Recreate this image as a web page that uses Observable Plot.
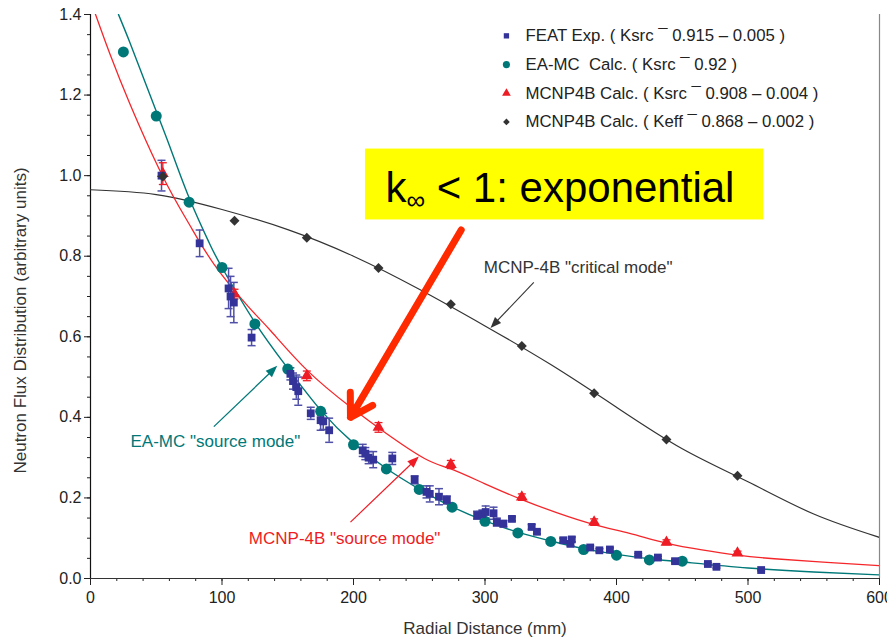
<!DOCTYPE html>
<html><head><meta charset="utf-8">
<script src="https://cdn.jsdelivr.net/npm/d3@7"></script>
<script src="https://cdn.jsdelivr.net/npm/@observablehq/plot@0.6"></script>
<style>
body{margin:0;background:#fff;}
#chart{width:887px;height:637px;}
</style></head><body><div id="chart"></div>
<script>
// ---------- data ----------
const featX   = [54, 83, 105, 106.5, 109, 122.5, 152, 154, 156.5, 158, 167.5, 175, 177, 181.5, 207, 209, 211.5, 215, 229.5, 246.5, 255.5, 258, 265, 271, 294, 298, 300.5, 306.5, 309, 314, 320.5, 335.5, 339.5, 359.5, 365, 366, 380, 387, 395, 416.5, 431.5, 444.5, 469.5, 476, 510];
const featY   = [1.0, 0.832, 0.72, 0.70, 0.685, 0.598, 0.508, 0.49, 0.475, 0.465, 0.41, 0.393, 0.39, 0.368, 0.318, 0.31, 0.30, 0.295, 0.298, 0.245, 0.215, 0.21, 0.203, 0.195, 0.157, 0.16, 0.165, 0.162, 0.14, 0.136, 0.148, 0.128, 0.116, 0.095, 0.086, 0.097, 0.077, 0.070, 0.072, 0.059, 0.052, 0.043, 0.036, 0.029, 0.021];
const featErr = [0.038, 0.033, 0.05, 0.05, 0.05, 0.02, 0.015, 0.02, 0.03, 0.035, 0.015, 0.025, 0.02, 0.03, 0.015, 0.015, 0.015, 0.02, 0.015, 0.01, 0.015, 0.02, 0.02, 0.01, 0.01, 0.01, 0.015, 0.015, 0.01, 0.008, 0.005, 0.006, 0.005, 0.005, 0.005, 0.006, 0.004, 0.004, 0.004, 0.003, 0.003, 0.003, 0.003, 0.003, 0.002];

const eamcX = [25, 50, 75, 100, 125, 150, 175, 200, 225, 250, 275, 300, 325, 350, 375, 400, 425, 450];
const eamcY = [1.307, 1.148, 0.934, 0.772, 0.632, 0.520, 0.415, 0.332, 0.272, 0.221, 0.177, 0.142, 0.113, 0.092, 0.072, 0.058, 0.046, 0.043];

const mcnpX   = [55, 109.5, 164.5, 219, 274, 328, 383, 438, 492];
const srcY    = [1.005, 0.706, 0.503, 0.375, 0.283, 0.202, 0.140, 0.090, 0.063];
const srcErr  = [0.027, 0.012, 0.012, 0.012, 0.01, 0.008, 0.008, 0.006, 0.005];
const critY   = [0.998, 0.888, 0.846, 0.771, 0.681, 0.577, 0.460, 0.345, 0.255];

// fitted curves
const fitTealX = [21.3, 30, 40, 50, 60, 75, 90, 100, 125, 150, 175, 200, 225, 250, 275, 300, 325, 350, 375, 400, 425, 450, 500, 550, 600];
const fitTealY = [1.4, 1.33, 1.245, 1.16, 1.075, 0.945, 0.835, 0.772, 0.636, 0.522, 0.418, 0.336, 0.273, 0.222, 0.178, 0.143, 0.115, 0.093, 0.074, 0.060, 0.049, 0.041, 0.026, 0.016, 0.009];
const fitRedX  = [0, 8, 15, 30, 55, 75, 94, 120, 137, 165, 198, 225, 254, 274, 300, 328, 355, 383, 410, 438, 465, 492, 520, 560, 600];
const fitRedY  = [1.435, 1.362, 1.30, 1.178, 0.998, 0.88, 0.78, 0.675, 0.615, 0.516, 0.425, 0.36, 0.298, 0.272, 0.235, 0.196, 0.163, 0.134, 0.112, 0.088, 0.071, 0.058, 0.049, 0.040, 0.032];
const fitBlkX  = [0, 50, 100, 150, 200, 250, 300, 350, 400, 450, 500, 550, 600];
const fitBlkY  = [0.965, 0.953, 0.916, 0.866, 0.800, 0.718, 0.627, 0.531, 0.425, 0.322, 0.240, 0.160, 0.102];

const legendLabels = [
  "FEAT Exp. ( Ksrc \u00AF 0.915 \u2013 0.005 )",
  "EA-MC  Calc. ( Ksrc \u00AF 0.92 )",
  "MCNP4B Calc. ( Ksrc \u00AF 0.908 \u2013 0.004 )",
  "MCNP4B Calc. ( Keff \u00AF 0.868 \u2013 0.002 )"
];
const xTicks = [0, 100, 200, 300, 400, 500, 600];
const yTicks = [0, 0.2, 0.4, 0.6, 0.8, 1.0, 1.2, 1.4];
const xTitle = "Radial Distance (mm)";
const yTitle = "Neutron Flux Distribution (arbitrary units)";
const boxText = "k\u221E < 1: exponential";
const notes = ["MCNP-4B \"critical mode\"", "EA-MC \"source mode\"", "MCNP-4B \"source mode\""];

// ---------- build tables ----------
const feat = featX.map((x, i) => ({x, y: featY[i], e: featErr[i]}));
const eamc = eamcX.map((x, i) => ({x, y: eamcY[i]}));
const src = mcnpX.map((x, i) => ({x, y: srcY[i], e: srcErr[i]}));
const crit = mcnpX.map((x, i) => ({x, y: critY[i]}));
const tealFit = fitTealX.map((x, i) => ({x, y: fitTealY[i]}));
const redFit = fitRedX.map((x, i) => ({x, y: fitRedY[i]}));
const blkFit = fitBlkX.map((x, i) => ({x, y: fitBlkY[i]}));

// ---------- styles ----------
const FONT = "'Liberation Sans', Arial, Helvetica, sans-serif";
const BLUE = "#333399", BLUE_ERR = "#5050a8", TEAL = "#007878", RED = "#ee1c25", DARK = "#333333";
const capSymbol = {draw(ctx, size) { const w = Math.sqrt(size / Math.PI); ctx.moveTo(-w, 0); ctx.lineTo(w, 0); }};
// filled arrow head, tip at the origin, pointing up before rotation
const headSymbol = {draw(ctx, size) { const w = Math.sqrt(size / Math.PI); ctx.moveTo(0, 0); ctx.lineTo(-w, 2.6 * w); ctx.lineTo(w, 2.6 * w); ctx.closePath(); }};

const legendSymbols = ["square", "circle", "triangle", "diamond2"];
const legendColors = [BLUE, TEAL, RED, DARK];
const legendR = [3.6, 5.2, 4.2, 3.6];
const legend = legendLabels.map((t, i) => ({t, s: legendSymbols[i], c: legendColors[i], r: legendR[i], y: 1.347 - i * 0.0712}));

const chart = Plot.plot({
  width: 887, height: 637,
  marginLeft: 90, marginRight: 8, marginTop: 14, marginBottom: 59,
  x: {domain: [0, 600]},
  y: {domain: [0, 1.4]},
  style: {fontFamily: FONT, fontSize: "16px", background: "#fff", color: "#222"},
  marks: [
    // axes
    Plot.axisY(d3.range(0, 1.401, 0.05), {tickSize: 3, tickFormat: () => "", label: null}),
    Plot.axisY(yTicks, {tickSize: 6, tickPadding: 3, tickFormat: d3.format(".1f"), fontSize: 16, label: null}),
    Plot.axisX(d3.range(0, 601, 20), {tickSize: 3, tickFormat: () => "", label: null}),
    Plot.axisX(xTicks, {tickSize: 7, tickPadding: 6, fontSize: 16, label: null}),
    Plot.ruleX([0], {stroke: "#111", strokeWidth: 1.2}),
    Plot.ruleY([0], {stroke: "#333", strokeWidth: 1.2}),
    Plot.ruleX([600], {stroke: "#888", strokeWidth: 1.2}),
    Plot.text([xTitle], {frameAnchor: "bottom", lineAnchor: "middle", textAnchor: "middle", dy: 50, fontSize: 17, fill: "#333"}),
    Plot.text([yTitle], {frameAnchor: "left", textAnchor: "middle", lineAnchor: "middle", rotate: -90, dx: -70, dy: 24, fontSize: 17, fill: "#333"}),

    // annotation box
    Plot.rect([0], {x1: 209.1, x2: 511.8, y1: 0.890, y2: 1.066, fill: "#ffff00"}),
    Plot.text([boxText], {x: 224.3, y: 0.967, textAnchor: "start", fontSize: 42, fill: "#000"}),

    // fitted curves
    Plot.line(blkFit, {x: "x", y: "y", curve: "natural", stroke: DARK, strokeWidth: 1.2, clip: true}),
    Plot.line(redFit, {x: "x", y: "y", curve: "natural", stroke: "#f5262a", strokeWidth: 1.3, clip: true}),
    Plot.line(tealFit, {x: "x", y: "y", curve: "natural", stroke: TEAL, strokeWidth: 1.4, clip: true}),

    // error bars
    Plot.ruleX(feat, {x: "x", y1: d => d.y - d.e, y2: d => d.y + d.e, stroke: BLUE_ERR, strokeWidth: 1.5}),
    Plot.dot(feat, {x: "x", y: d => d.y + d.e, symbol: capSymbol, r: 4, stroke: BLUE_ERR, fill: "none", strokeWidth: 1.5}),
    Plot.dot(feat, {x: "x", y: d => d.y - d.e, symbol: capSymbol, r: 4, stroke: BLUE_ERR, fill: "none", strokeWidth: 1.5}),
    Plot.ruleX(src, {x: "x", y1: d => d.y - d.e, y2: d => d.y + d.e, stroke: RED, strokeWidth: 1.3}),
    Plot.dot(src, {x: "x", y: d => d.y + d.e, symbol: capSymbol, r: 4, stroke: RED, fill: "none", strokeWidth: 1.3}),
    Plot.dot(src, {x: "x", y: d => d.y - d.e, symbol: capSymbol, r: 4, stroke: RED, fill: "none", strokeWidth: 1.3}),

    // markers
    Plot.dot(src, {x: "x", y: "y", symbol: "triangle", r: 4.4, fill: RED}),
    Plot.dot(eamc, {x: "x", y: "y", symbol: "circle", r: 5.5, fill: TEAL}),
    Plot.dot(feat, {x: "x", y: "y", symbol: "square", r: 4.4, fill: BLUE}),
    Plot.dot(crit, {x: "x", y: "y", symbol: "diamond2", r: 4.5, fill: DARK}),

    // big arrow (open head)
    Plot.arrow([0], {x1: 281.9, y1: 0.865, x2: 197.7, y2: 0.400, stroke: "#ff2a00", strokeWidth: 7, headLength: 5.4, headAngle: 62}),
    // thin arrows with filled heads
    Plot.link([0], {x1: 337.1, y1: 0.735, x2: 307, y2: 0.632, stroke: DARK, strokeWidth: 1.1}),
    Plot.dot([0], {x: 304.2, y: 0.622, symbol: headSymbol, r: 4.2, fill: DARK, rotate: 223.5}),
    Plot.link([0], {x1: 93.8, y1: 0.377, x2: 138, y2: 0.515, stroke: TEAL, strokeWidth: 1.3}),
    Plot.dot([0], {x: 142, y: 0.528, symbol: headSymbol, r: 4.5, fill: TEAL, rotate: 46}),
    Plot.link([0], {x1: 197.7, y1: 0.140, x2: 246, y2: 0.291, stroke: RED, strokeWidth: 1.2}),
    Plot.dot([0], {x: 249.7, y: 0.303, symbol: headSymbol, r: 4.5, fill: RED, rotate: 46}),

    // annotation texts
    Plot.text([notes[0]], {x: 299.1, y: 0.773, textAnchor: "start", fontSize: 17, fill: "#333"}),
    Plot.text([notes[1]], {x: 30.4, y: 0.341, textAnchor: "start", fontSize: 17, fill: TEAL}),
    Plot.text([notes[2]], {x: 120.4, y: 0.0995, textAnchor: "start", fontSize: 17, fill: RED}),

    // legend
    Plot.dot(legend, {x: 316.3, y: "y", symbol: "s", r: "r", fill: "c"}),
    Plot.text(legend, {x: 330.8, y: "y", text: "t", textAnchor: "start", fontSize: 16.8, fill: "#222"})
  ]
});

// make the infinity sign a subscript
chart.querySelectorAll("text").forEach(t => {
  if (t.textContent === boxText) {
    const parts = boxText.split("\u221E");
    t.textContent = "";
    const ns = "http://www.w3.org/2000/svg";
    const a = document.createElementNS(ns, "tspan"); a.textContent = parts[0];
    const b = document.createElementNS(ns, "tspan"); b.textContent = "\u221E"; b.setAttribute("font-size", "26"); b.setAttribute("dy", "7");
    const c = document.createElementNS(ns, "tspan"); c.textContent = parts[1]; c.setAttribute("dy", "-7");
    t.append(a, b, c);
  }
});
document.getElementById("chart").append(chart);
</script>
</body></html>
